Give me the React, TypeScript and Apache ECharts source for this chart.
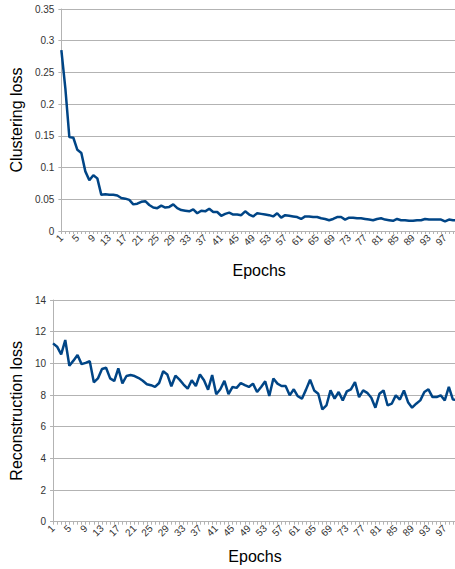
import React, { useEffect, useRef } from "react";
import * as echarts from "echarts";

const epochs: string[] = Array.from({ length: 100 }, (_, i) => String(i + 1));

const clusteringLoss: number[] = [
  0.285, 0.225, 0.148, 0.147, 0.128, 0.123, 0.094, 0.080, 0.088, 0.083,
  0.057, 0.058, 0.057, 0.057, 0.056, 0.052, 0.051, 0.049, 0.042, 0.043,
  0.046, 0.047, 0.041, 0.037, 0.036, 0.040, 0.037, 0.038, 0.042, 0.036,
  0.033, 0.032, 0.031, 0.034, 0.028, 0.032, 0.031, 0.035, 0.030, 0.030,
  0.024, 0.027, 0.029, 0.026, 0.026, 0.025, 0.031, 0.026, 0.023, 0.028,
  0.027, 0.026, 0.025, 0.023, 0.028, 0.021, 0.025, 0.024, 0.023, 0.022,
  0.019, 0.023, 0.023, 0.022, 0.022, 0.020, 0.019, 0.017, 0.019, 0.022,
  0.022, 0.018, 0.021, 0.021, 0.020, 0.020, 0.019, 0.018, 0.017, 0.019,
  0.020, 0.018, 0.017, 0.016, 0.019, 0.017, 0.017, 0.016, 0.016, 0.017,
  0.017, 0.019, 0.018, 0.018, 0.018, 0.018, 0.015, 0.018, 0.017, 0.017,
];

const reconstructionLoss: number[] = [
  11.26, 11.05, 10.57, 11.47, 9.85, 10.17, 10.52, 9.95, 10.03, 10.14,
  8.8, 9.05, 9.64, 9.72, 9.05, 8.88, 9.68, 8.74, 9.2, 9.26,
  9.2, 9.07, 8.9, 8.68, 8.62, 8.51, 8.76, 9.5, 9.3, 8.55,
  9.22, 8.97, 8.66, 8.4, 8.93, 8.57, 9.3, 8.93, 8.34, 9.26,
  8.05, 8.36, 8.89, 8.05, 8.51, 8.45, 8.76, 8.62, 8.51, 8.72,
  8.19, 8.51, 8.87, 7.94, 9.04, 8.72, 8.57, 8.57, 7.98, 8.36,
  7.92, 7.77, 8.34, 8.97, 8.29, 8.08, 7.09, 7.34, 8.29, 7.77,
  8.19, 7.66, 8.23, 8.36, 8.82, 7.87, 8.29, 8.14, 7.83, 7.2,
  8.08, 8.29, 7.34, 7.45, 7.98, 7.71, 8.29, 7.55, 7.2, 7.45,
  7.66, 8.19, 8.36, 7.87, 7.87, 7.98, 7.66, 8.51, 7.71, 7.7,
];

const FONT = "'Liberation Sans', Arial, sans-serif";
const GRID_COLOR = "#b3b3b3";
const LINE_COLOR = "#004586";

function xAxis(gridIndex: number, nameGap: number) {
  return {
    type: "category",
    gridIndex,
    data: epochs,
    boundaryGap: false,
    name: "Epochs",
    nameLocation: "middle",
    nameGap,
    nameTextStyle: { fontFamily: FONT, fontSize: 16, color: "#000" },
    axisLine: { show: true, lineStyle: { color: GRID_COLOR, width: 1 } },
    axisTick: { show: true, interval: 0, length: 3, lineStyle: { color: GRID_COLOR } },
    axisLabel: {
      interval: 3,
      rotate: 45,
      margin: 5,
      fontFamily: FONT,
      fontSize: 10,
      color: "#333",
    },
    splitLine: { show: false },
  };
}

function yAxis(gridIndex: number, name: string, max: number, interval: number, nameGap: number) {
  return {
    type: "value",
    gridIndex,
    min: 0,
    max,
    interval,
    name,
    nameLocation: "middle",
    nameGap,
    nameTextStyle: { fontFamily: FONT, fontSize: 16, color: "#000" },
    axisLine: { show: true, lineStyle: { color: GRID_COLOR, width: 1 } },
    axisTick: { show: true, length: 3, lineStyle: { color: GRID_COLOR } },
    axisLabel: { margin: 7, fontFamily: FONT, fontSize: 10, color: "#333" },
    splitLine: { show: true, lineStyle: { color: GRID_COLOR, width: 1 } },
  };
}

export default function App() {
  const ref = useRef<HTMLDivElement>(null);
  useEffect(() => {
    if (!ref.current) return;
    const chart = echarts.init(ref.current, undefined, { renderer: "svg" });
    chart.setOption({
      animation: false,
      backgroundColor: "#fff",
      grid: [
        { left: 58, right: 13, top: 9, height: 222 },
        { left: 50, right: 13, top: 300, height: 221.7 },
      ],
      xAxis: [xAxis(0, 31), xAxis(1, 27)],
      yAxis: [
        yAxis(0, "Clustering loss", 0.35, 0.05, 33),
        yAxis(1, "Reconstruction loss", 14, 2, 25),
      ],
      series: [
        {
          type: "line",
          xAxisIndex: 0,
          yAxisIndex: 0,
          data: clusteringLoss,
          showSymbol: false,
          lineStyle: { color: LINE_COLOR, width: 2.5 },
          itemStyle: { color: LINE_COLOR },
        },
        {
          type: "line",
          xAxisIndex: 1,
          yAxisIndex: 1,
          data: reconstructionLoss,
          showSymbol: false,
          lineStyle: { color: LINE_COLOR, width: 2.5 },
          itemStyle: { color: LINE_COLOR },
        },
      ],
    });
    return () => chart.dispose();
  }, []);
  return (
    <div style={{ position: "fixed", left: 0, top: 0, width: 455, height: 569, overflow: "hidden", background: "#fff" }}>
      <div ref={ref} style={{ width: 470, height: 569 }} />
    </div>
  );
}
